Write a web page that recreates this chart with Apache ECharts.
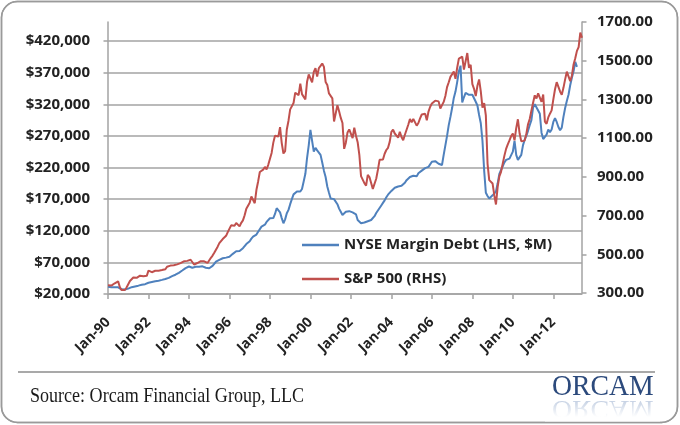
<!DOCTYPE html>
<html><head><meta charset="utf-8">
<script src="https://cdn.jsdelivr.net/npm/echarts@6/dist/echarts.min.js"></script>
<style>html,body{margin:0;padding:0;background:#fff}#c{width:680px;height:425px}</style>
</head><body><div id="c"></div>
<script>
// ---- data ----
const monthNames = ['Jan','Feb','Mar','Apr','May','Jun','Jul','Aug','Sep','Oct','Nov','Dec'];
const startYear = 1990;
const monthCount = 282; // Jan-1990 .. Jun-2013
const categories = [];
for (let i = 0; i < monthCount; i++) {
  const y = startYear + Math.floor(i / 12);
  categories.push(monthNames[i % 12] + '-' + String(y % 100).padStart(2, '0'));
}
const leftTicks = [20000, 70000, 120000, 170000, 220000, 270000, 320000, 370000, 420000];
const rightTicks = [300, 500, 700, 900, 1100, 1300, 1500, 1700];
const seriesNames = ['NYSE Margin Debt (LHS, $M)', 'S&P 500 (RHS)'];

// NYSE margin debt, $M, monthly Jan-1990 .. Mar-2013
const marginDebt = [
  31500, 30500, 30800, 30000, 30600, 31000, 30500, 29000, 27500, 26500, 27000, 28000,
  28500, 29800, 30800, 31500, 32000, 32300, 33200, 34000, 34500, 35000, 35500, 36600,
  37800, 39500, 39000, 39300, 40200, 40000, 41000, 42000, 42300, 42800, 43800, 44500,
  45500, 47000, 48300, 49000, 50500, 52000, 53500, 55300, 57200, 59500, 61000, 62500,
  63500, 63000, 61500, 62500, 63000, 62500, 63200, 63500, 63800, 63000, 61500, 61000,
  60700, 62000, 64500, 67000, 71000, 72500, 74000, 75500, 76500, 76000, 77500, 78500,
  79000, 81500, 83500, 85500, 87500, 89000, 88000, 89600, 92500, 95500, 99000, 101000,
  103500, 107500, 110700, 108500, 114000, 118500, 121500, 126500, 124000, 129500, 134000, 136000,
  139700, 142000, 140000, 146500, 155600, 155000, 149000, 140000, 131800, 138000, 147700, 153000,
  162000, 170000, 177500, 179000, 182000, 180500, 182000, 186000, 198000, 210000, 235000, 255000,
  279500, 262000, 245000, 251000, 247000, 247800, 240000, 228000, 215000, 205000, 190000, 180000,
  171000, 168000, 170000, 171000, 162000, 155000, 150000, 145000, 148000, 150000, 149000, 151000,
  150000, 149000, 148000, 146000, 137000, 134000, 132000, 131000, 133000, 134000, 135000, 137000,
  137000, 139000, 143000, 148000, 152000, 156000, 160000, 164000, 168000, 173000, 177000, 180000,
  183000, 186000, 188000, 187000, 190000, 192000, 191000, 193000, 196000, 200000, 203000, 205000,
  205000, 207000, 208000, 206000, 211000, 213000, 215000, 217000, 219000, 216000, 221000, 224000,
  229000, 228000, 230000, 231000, 226000, 224000, 224000, 240000, 255000, 270000, 287000, 300000,
  314000, 330000, 340000, 355000, 372000, 381000, 323000, 331000, 338000, 336000, 335000, 333000,
  335000, 333000, 324000, 318000, 303000, 290000, 262000, 215000, 180000, 175000, 171000, 172000,
  176000, 179000, 182000, 195000, 210000, 216000, 222000, 228000, 232000, 229000, 234000, 237000,
  245000, 262000, 240000, 232000, 236000, 240000, 255000, 264000, 270000, 278000, 287000, 295000,
  315000, 320000, 318000, 310000, 305000, 275000, 265000, 264000, 272000, 280000, 276000, 280000,
  292000, 298000, 292000, 284000, 279000, 283000, 300000, 314000, 325000, 335000, 350000, 362000,
  372000, 387000, 379000
];

// S&P 500, monthly, Jan-1990 .. Jun-2013
const spx = [
  339.97, 330.45, 338.47, 338.18, 350.25, 360.39, 360.03, 330.75, 315.41, 307.12, 315.29, 328.75,
  325.49, 362.26, 372.28, 379.68, 377.99, 378.29, 380.23, 389.40, 387.20, 386.88, 385.92, 388.51,
  416.08, 412.56, 407.36, 407.41, 414.81, 408.27, 415.05, 417.93, 418.48, 412.50, 422.84, 435.64,
  435.23, 441.70, 450.16, 443.08, 445.25, 448.06, 447.29, 454.13, 459.24, 463.90, 462.89, 465.95,
  472.99, 471.58, 463.81, 447.23, 450.90, 454.83, 451.40, 464.24, 466.96, 463.81, 461.01, 455.19,
  465.25, 481.92, 493.15, 507.91, 523.81, 539.35, 557.37, 559.11, 578.77, 582.92, 595.53, 614.57,
  614.42, 649.54, 647.07, 647.17, 661.23, 668.50, 644.07, 662.68, 674.88, 701.46, 735.67, 743.25,
  766.22, 798.39, 792.16, 763.93, 833.09, 876.29, 925.29, 927.74, 937.02, 951.16, 938.92, 962.37,
  963.36, 1023.74, 1076.83, 1112.20, 1108.42, 1108.39, 1156.58, 1074.62, 1020.64, 1032.47, 1144.43, 1190.05,
  1248.77, 1246.58, 1281.66, 1334.76, 1332.07, 1322.55, 1380.99, 1327.49, 1318.17, 1300.01, 1391.00, 1428.68,
  1425.59, 1388.87, 1442.21, 1461.36, 1418.48, 1461.96, 1473.00, 1485.46, 1468.05, 1390.14, 1375.04, 1330.93,
  1335.63, 1305.75, 1185.85, 1189.84, 1270.37, 1238.71, 1204.45, 1178.50, 1044.64, 1076.59, 1129.68, 1144.93,
  1140.21, 1100.67, 1153.79, 1112.04, 1079.27, 1014.05, 903.59, 912.55, 867.81, 854.63, 909.93, 899.18,
  895.84, 837.62, 846.62, 890.03, 935.96, 988.00, 992.54, 989.53, 1019.44, 1038.73, 1049.90, 1080.64,
  1132.52, 1143.36, 1123.98, 1133.08, 1102.78, 1132.76, 1105.85, 1088.94, 1117.66, 1118.07, 1168.94, 1199.21,
  1181.41, 1199.63, 1194.90, 1164.42, 1178.28, 1202.26, 1222.24, 1224.27, 1225.91, 1191.96, 1237.37, 1262.07,
  1278.73, 1276.65, 1293.74, 1302.18, 1290.00, 1253.12, 1260.24, 1287.15, 1317.81, 1363.38, 1388.63, 1416.42,
  1424.16, 1444.79, 1406.95, 1463.65, 1511.14, 1514.49, 1520.70, 1454.62, 1497.12, 1539.66, 1463.39, 1479.23,
  1378.76, 1354.87, 1316.94, 1370.47, 1403.22, 1341.25, 1257.33, 1281.47, 1216.95, 968.80, 883.04, 877.56,
  865.58, 805.23, 757.13, 848.15, 902.41, 926.12, 935.82, 1009.72, 1044.55, 1067.66, 1088.07, 1110.38,
  1123.58, 1089.16, 1152.05, 1197.32, 1125.06, 1083.36, 1079.80, 1087.28, 1122.08, 1171.58, 1198.89, 1241.53,
  1282.62, 1321.12, 1304.49, 1331.51, 1338.31, 1287.29, 1325.18, 1185.31, 1173.88, 1207.22, 1226.41, 1243.32,
  1300.58, 1352.49, 1389.24, 1386.43, 1341.27, 1323.48, 1359.78, 1403.44, 1443.42, 1437.82, 1394.51, 1422.29,
  1480.40, 1512.31, 1550.83, 1570.70, 1645.00, 1618.77
];

// ---- chart ----
const axisGray = '#a3a3a3';
const textColor = '#222222';
const boldFont = { fontFamily: 'Open Sans', fontWeight: 'bold', color: textColor };
const chart = echarts.init(document.getElementById('c'), null, { renderer: 'canvas' });
const G = echarts.graphic;

const option = {
  animation: false,
  backgroundColor: '#ffffff',
  grid: [
    { left: 108, right: 98, top: 41, bottom: 131 },
    { left: 108, right: 98, top: 22, bottom: 132 }
  ],
  xAxis: [
    {
      gridIndex: 0, type: 'category', data: categories, boundaryGap: false,
      axisLine: { lineStyle: { color: axisGray, width: 1.5 } },
      axisTick: { show: true, interval: 23, length: 5, lineStyle: { color: axisGray, width: 1.5 } },
      axisLabel: Object.assign({ interval: 23, rotate: 45, margin: 26, fontSize: 14 }, boldFont),
      splitLine: { show: false }
    },
    { gridIndex: 1, type: 'category', data: categories, boundaryGap: false, show: false }
  ],
  yAxis: [
    {
      gridIndex: 0, type: 'value', position: 'left',
      min: leftTicks[0], max: leftTicks[leftTicks.length - 1], interval: leftTicks[1] - leftTicks[0],
      axisLine: { show: false },
      axisTick: { show: true, length: 4.5, lineStyle: { color: axisGray, width: 1.5 } },
      splitLine: { show: true, lineStyle: { color: axisGray, width: 1.5 } },
      axisLabel: Object.assign({
        margin: 18, fontSize: 15,
        formatter: v => '$' + String(v).replace(/\B(?=(\d{3})+(?!\d))/g, ',')
      }, boldFont)
    },
    {
      gridIndex: 1, type: 'value', position: 'right',
      min: rightTicks[0], max: rightTicks[rightTicks.length - 1], interval: rightTicks[1] - rightTicks[0],
      axisLine: { show: true, lineStyle: { color: axisGray, width: 1.5 } },
      axisTick: { show: true, length: 4.5, lineStyle: { color: axisGray, width: 1.5 } },
      splitLine: { show: false },
      axisLabel: Object.assign({ margin: 15, fontSize: 15, formatter: v => Number(v).toFixed(2) }, boldFont)
    },
    {
      gridIndex: 1, type: 'value', position: 'left', min: 0, max: 1,
      axisLine: { show: true, lineStyle: { color: axisGray, width: 1.5 } },
      axisTick: { show: false }, axisLabel: { show: false }, splitLine: { show: false }
    }
  ],
  legend: {
    left: 297, top: 232, orient: 'vertical', itemGap: 18,
    itemWidth: 37, itemHeight: 2.5, icon: 'rect',
    textStyle: Object.assign({ fontSize: 15, lineHeight: 16 }, boldFont),
    data: seriesNames
  },
  series: [
    {
      name: seriesNames[0], type: 'line', xAxisIndex: 0, yAxisIndex: 0, data: marginDebt,
      showSymbol: false, smooth: false, z: 3,
      lineStyle: { color: '#4F81BD', width: 2 }, itemStyle: { color: '#4F81BD' }
    },
    {
      name: seriesNames[1], type: 'line', xAxisIndex: 1, yAxisIndex: 1, data: spx,
      showSymbol: false, smooth: false, z: 4,
      lineStyle: { color: '#C0504D', width: 2 }, itemStyle: { color: '#C0504D' }
    }
  ],
  graphic: [
    { type: 'rect', silent: true, shape: { x: 1.5, y: 1.5, width: 676, height: 421, r: 16 },
      style: { fill: 'none', stroke: '#9a9a9a', lineWidth: 1.5 } },
    { type: 'line', silent: true, shape: { x1: 18, y1: 372, x2: 655, y2: 372 },
      style: { stroke: '#8c8c8c', lineWidth: 1.5 } },
    { type: 'text', silent: true, x: 30, y: 396, scaleX: 0.82,
      style: { text: 'Source: Orcam Financial Group, LLC', fontFamily: 'Liberation Serif',
               fontSize: 22, fill: '#1a1a1a', align: 'left', verticalAlign: 'middle' } },
    { type: 'text', silent: true, x: 552, y: 408, scaleX: 0.925, scaleY: -0.85, z: 10,
      style: { text: 'ORCAM', fontFamily: 'Liberation Serif', fontSize: 30, align: 'left', verticalAlign: 'middle',
               fill: 'rgba(80,115,170,0.45)' } },
    { type: 'rect', silent: true, z: 11, shape: { x: 545, y: 397, width: 115, height: 25 },
      style: { fill: new G.LinearGradient(0, 0, 0, 1, [{ offset: 0, color: 'rgba(255,255,255,0.1)' }, { offset: 0.8, color: 'rgba(255,255,255,1)' }, { offset: 1, color: 'rgba(255,255,255,1)' }]) } },
    { type: 'text', silent: true, x: 552, y: 387, scaleX: 0.925, z: 12,
      style: { text: 'ORCAM', fontFamily: 'Liberation Serif', fontSize: 30, align: 'left', verticalAlign: 'middle',
               fill: '#2c4a7c' } },
    { type: 'rect', silent: true, shape: { x: 1.5, y: 1.5, width: 676, height: 421, r: 16 }, z: 13,
      style: { fill: 'none', stroke: '#9a9a9a', lineWidth: 1.5 } }
  ]
};
chart.setOption(option);
</script>
</body></html>
